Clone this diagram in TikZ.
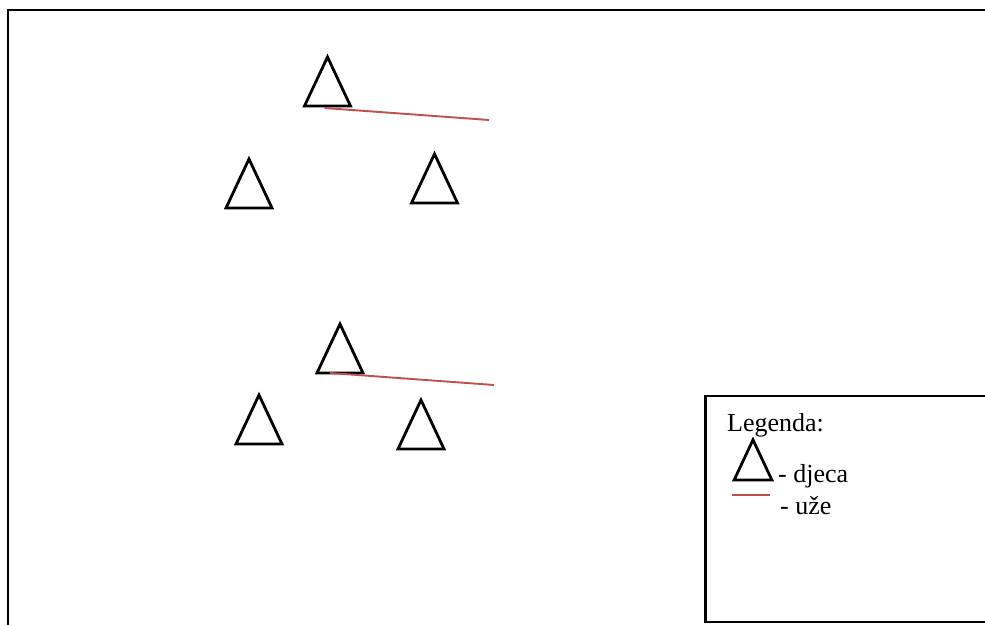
\documentclass[tikz,border=0pt]{standalone}
\usepackage{fontspec}
\setmainfont{Liberation Serif}
\usepackage{xcolor}
\usepackage{tikz}
\usetikzlibrary{calc,positioning}
\definecolor{uzered}{RGB}{192,80,77}

\begin{document}
\begin{tikzpicture}[x=1pt,y=1pt,
    okvir/.style={draw=black,line width=2.8pt},
    lik/.style={draw=black,line width=2.8pt,line join=miter},
    uze/.style={draw=uzered,line width=1.9pt},
    opis/.style={anchor=base west,inner sep=0pt,font=\fontsize{26}{30}\selectfont},
    dijete/.pic={\draw[lik] (-23,0) coordinate (-base) -- (0,49) coordinate (-vrh) -- (23,0) -- cycle;
      \coordinate (-sred) at (0,0);}]
  \useasboundingbox (0,0) rectangle (985,624);
  \clip (0,0) rectangle (985,624);
  \fill[white] (0,0) rectangle (985,624);
  % vanjski okvir
  \draw[okvir] (8,614) rectangle (1000,-20);
  % prva skupina
  \pic (d1) at (327.5,518) {dijete};
  \pic (d2) at (249,416) {dijete};
  \pic (d3) at (434.5,421) {dijete};
  \coordinate (k1) at (489,504);
  \draw[uze] ([xshift=-3pt,yshift=-2pt]d1-sred) -- (k1);
  % druga skupina
  \pic (d4) at (340,251) {dijete};
  \pic (d5) at (259,180) {dijete};
  \pic (d6) at (421,175) {dijete};
  \coordinate (k2) at (494,239);
  \draw[uze] ([xshift=-10pt]d4-sred) -- (k2);
  % legenda
  \draw[okvir] (705.5,2) rectangle (1000,228);
  \node[opis] (leg) at (727,192) {Legenda:};
  \pic[scale=0.82] (ld) at (753,144) {dijete};
  \node[opis] (ldj) at (778,141) {- djeca};
  \coordinate (lu1) at (732,129);
  \coordinate (lu2) at (770,129);
  \draw[uze] (lu1) -- (lu2);
  \node[opis] (luz) at (780,110) {- uže};
\end{tikzpicture}
\end{document}
